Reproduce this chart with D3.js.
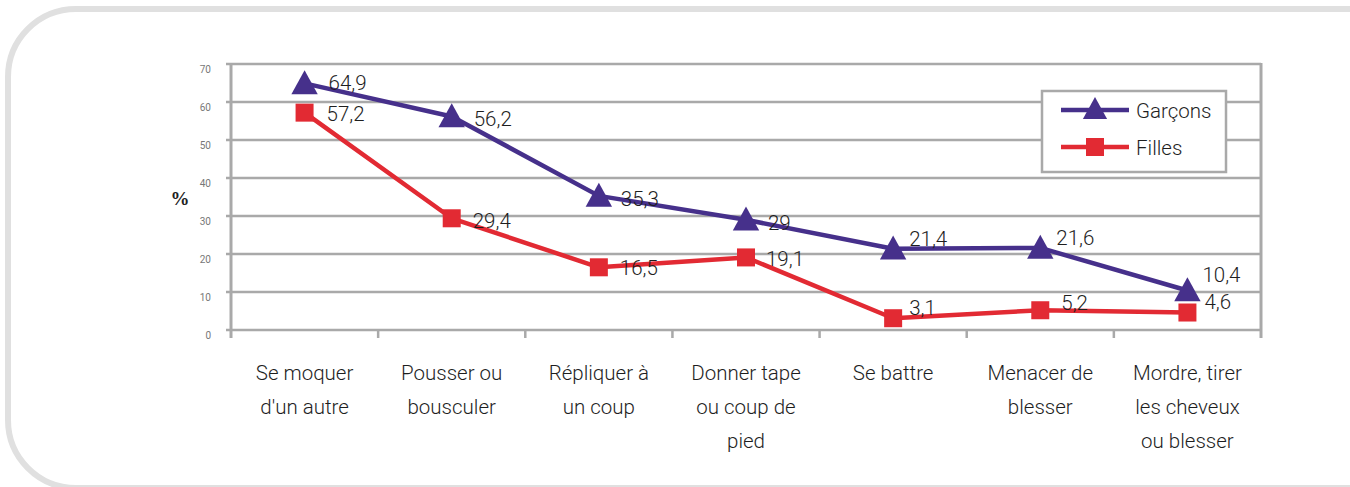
<!DOCTYPE html>
<html lang="fr">
<head>
    <meta charset="UTF-8">
    <title>Garçons / Filles</title>
    <script src="https://d3js.org/d3.v7.min.js"></script>
    <style>
        * { margin: 0; padding: 0; box-sizing: border-box; }
        html, body { width: 1350px; height: 487px; overflow: hidden; background: #fff; }
        svg { display: block; }
        .lbl { font-family: Roboto, "Open Sans", sans-serif; font-weight: 300; fill: #1e1e1e; }
    </style>
</head>
<body>
    <svg width="1350" height="487"></svg>

    <script>
        // data
        const categories = [
            ["Se moquer", "d'un autre"],
            ["Pousser ou", "bousculer"],
            ["Répliquer à", "un coup"],
            ["Donner tape", "ou coup de", "pied"],
            ["Se battre"],
            ["Menacer de", "blesser"],
            ["Mordre, tirer", "les cheveux", "ou blesser"]
        ];
        const garcons = [64.9, 56.2, 35.3, 29, 21.4, 21.6, 10.4];
        const filles = [57.2, 29.4, 16.5, 19.1, 3.1, 5.2, 4.6];
        const yTicks = [0, 10, 20, 30, 40, 50, 60, 70];
        const seriesNames = ["Garçons", "Filles"];

        // label offsets (placement only)
        const garconsDx = [24, 22, 22, 22, 16, 16, 15];
        const garconsDy = [7, 10, 10, 10, -3, -3, -8];
        const fillesDx = [22, 21, 21, 20, 16, 21, 17];
        const fillesDy = [8, 10, 8, 9, -3, 0, -4];

        const svg = d3.select("svg");
        const plotLeft = 231, plotRight = 1261, plotTop = 64, plotBottom = 330;

        // outer rounded frame
        svg.append("rect")
            .attr("x", 8).attr("y", 9)
            .attr("width", 1420).attr("height", 479)
            .attr("rx", 68).attr("ry", 68)
            .attr("fill", "none")
            .attr("stroke", "#e0e0e0")
            .attr("stroke-width", 6);

        const keys = categories.map((c, i) => i);
        const x = d3.scaleBand().domain(keys).range([plotLeft, plotRight]);
        const y = d3.scaleLinear().domain([0, 70]).range([plotBottom, plotTop]);

        // grid
        svg.append("g")
            .selectAll("line")
            .data(yTicks)
            .join("line")
            .attr("x1", plotLeft - 5).attr("x2", plotRight)
            .attr("y1", d => y(d)).attr("y2", d => y(d))
            .attr("stroke", "#a9a9a9")
            .attr("stroke-width", 2.5);

        // axis lines
        [plotLeft, plotRight].forEach(px => {
            svg.append("line")
                .attr("x1", px).attr("x2", px)
                .attr("y1", plotTop - 1).attr("y2", plotBottom + 8)
                .attr("stroke", "#a9a9a9").attr("stroke-width", 3);
        });

        svg.append("g")
            .selectAll("text")
            .data(yTicks)
            .join("text")
            .attr("x", 211)
            .attr("y", d => y(d) + 9)
            .attr("text-anchor", "end")
            .attr("font-family", "Roboto, sans-serif")
            .attr("font-size", 10)
            .attr("fill", "#777")
            .text(d => d);

        svg.append("text")
            .attr("x", 180).attr("y", 205)
            .attr("text-anchor", "middle")
            .attr("font-family", "Liberation Serif, serif")
            .attr("font-weight", "bold")
            .attr("font-size", 19)
            .attr("fill", "#222")
            .text("%");

        // x tick marks at band edges
        const edges = keys.map(k => x(k)).concat([plotRight]);
        svg.append("g")
            .selectAll("line")
            .data(edges.slice(1, -1))
            .join("line")
            .attr("x1", d => d).attr("x2", d => d)
            .attr("y1", plotBottom).attr("y2", plotBottom + 8)
            .attr("stroke", "#a9a9a9").attr("stroke-width", 2.5);

        const cx = i => x(i) + x.bandwidth() / 2;

        // category labels
        const cat = svg.append("g")
            .selectAll("text")
            .data(categories)
            .join("text")
            .attr("class", "lbl")
            .attr("text-anchor", "middle")
            .attr("font-size", 20.5)
            .attr("x", (d, i) => cx(i))
            .attr("y", 380);
        cat.selectAll("tspan")
            .data((d, i) => d.map(t => ({ t, i })))
            .join("tspan")
            .attr("x", d => cx(d.i))
            .attr("dy", (d, j) => j === 0 ? 0 : 34)
            .text(d => d.t);

        const line = d3.line().x((d, i) => cx(i)).y(d => y(d));

        const purple = "#46308b", red = "#e22a33";

        function triangle(g, px, py, s) {
            g.append("path")
                .attr("d", `M${px},${py - s * 0.55}L${px + s * 0.55},${py + s * 0.45}L${px - s * 0.55},${py + s * 0.45}Z`)
                .attr("fill", purple);
        }
        function square(g, px, py, s) {
            g.append("rect")
                .attr("x", px - s / 2).attr("y", py - s / 2)
                .attr("width", s).attr("height", s)
                .attr("fill", red);
        }

        // series
        svg.append("path").datum(filles)
            .attr("d", line).attr("fill", "none")
            .attr("stroke", red).attr("stroke-width", 4.5).attr("stroke-linejoin", "round");
        svg.append("path").datum(garcons)
            .attr("d", line).attr("fill", "none")
            .attr("stroke", purple).attr("stroke-width", 4.5).attr("stroke-linejoin", "round");

        const marks = svg.append("g");
        filles.forEach((v, i) => square(marks, cx(i), y(v), 18));
        garcons.forEach((v, i) => triangle(marks, cx(i), y(v), 24));

        const fmt = v => String(v).replace(".", ",");
        const labels = svg.append("g").attr("class", "lbl").attr("font-size", 20.5);
        garcons.forEach((v, i) => {
            labels.append("text")
                .attr("x", cx(i) + garconsDx[i]).attr("y", y(v) + garconsDy[i])
                .text(fmt(v));
        });
        filles.forEach((v, i) => {
            labels.append("text")
                .attr("x", cx(i) + fillesDx[i]).attr("y", y(v) + fillesDy[i])
                .text(fmt(v));
        });

        // legend
        const lg = svg.append("g");
        lg.append("rect")
            .attr("x", 1042).attr("y", 91)
            .attr("width", 184).attr("height", 81)
            .attr("fill", "#fff")
            .attr("stroke", "#a9a9a9").attr("stroke-width", 2.5);
        const legendY = [110, 147];
        const legendColor = [purple, red];
        seriesNames.forEach((name, i) => {
            lg.append("line")
                .attr("x1", 1061).attr("x2", 1129)
                .attr("y1", legendY[i]).attr("y2", legendY[i])
                .attr("stroke", legendColor[i]).attr("stroke-width", 4.5);
            if (i === 0) triangle(lg, 1095, legendY[i] - 1, 22);
            else square(lg, 1095, legendY[i], 18);
            lg.append("text")
                .attr("class", "lbl")
                .attr("x", 1136).attr("y", legendY[i] + 8)
                .attr("font-size", 20.5)
                .text(name);
        });
    </script>
</body>
</html>
